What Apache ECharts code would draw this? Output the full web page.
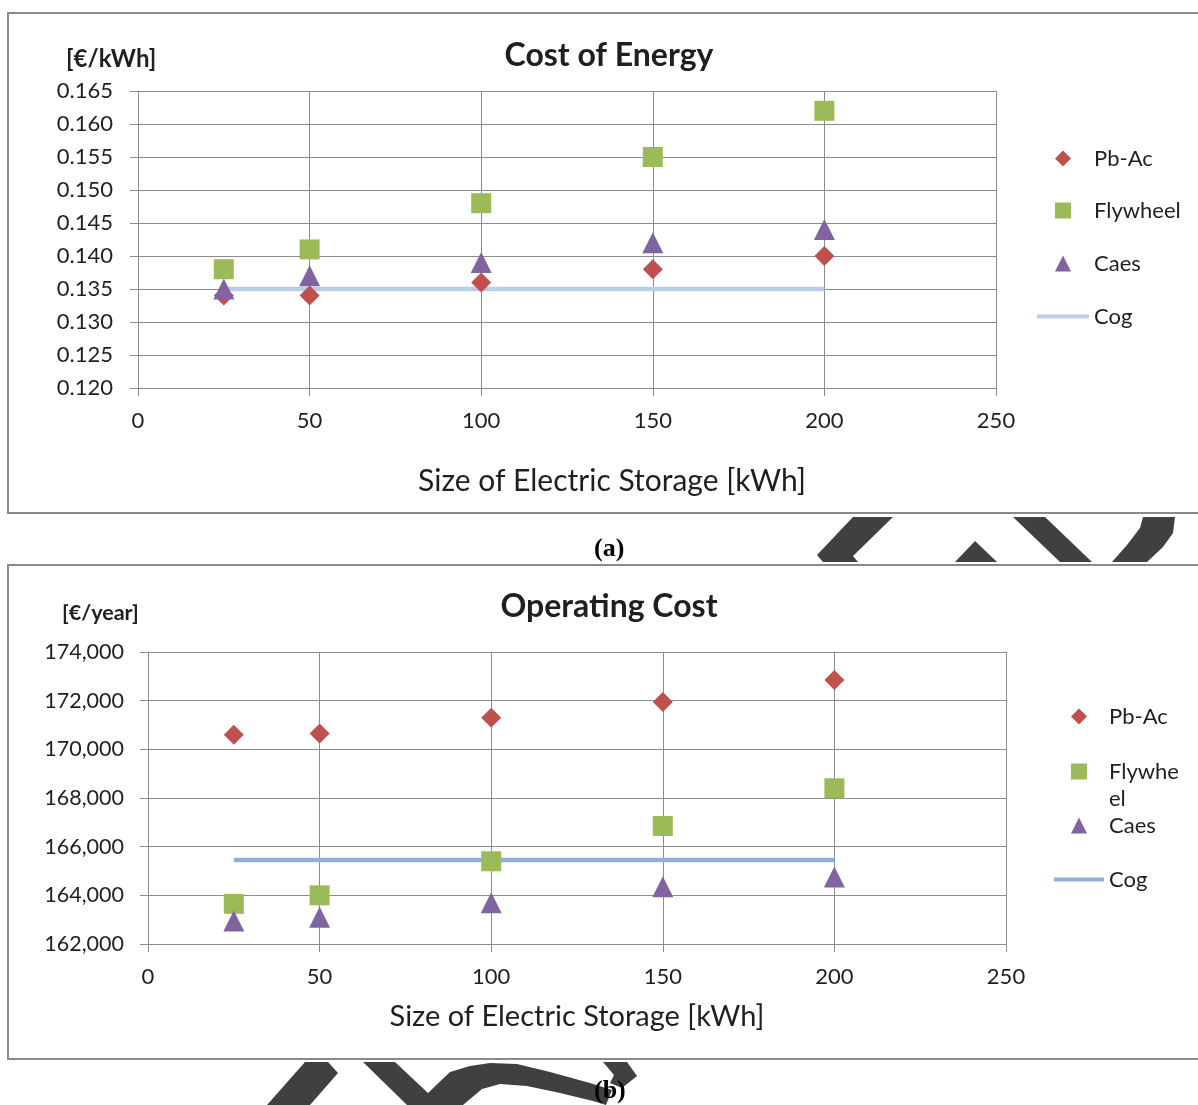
<!DOCTYPE html>
<html>
<head>
<meta charset="utf-8">
<script src="https://cdn.jsdelivr.net/npm/echarts@6/dist/echarts.min.js"></script>
<style>
html,body{margin:0;padding:0;background:#fff;}
#chart{width:1198px;height:1105px;}
</style>
</head>
<body>
<div id="chart"></div>
<script>
// ---- data ----
const sizes = [25, 50, 100, 150, 200];
const xTicks = [0, 50, 100, 150, 200, 250];

const coePbAc     = [0.134, 0.134, 0.136, 0.138, 0.140];
const coeFlywheel = [0.138, 0.141, 0.148, 0.155, 0.162];
const coeCaes     = [0.135, 0.137, 0.139, 0.142, 0.144];
const coeCog      = [0.135, 0.135, 0.135, 0.135, 0.135];

const opPbAc     = [170600, 170650, 171300, 171950, 172850];
const opFlywheel = [163650, 164000, 165400, 166850, 168400];
const opCaes     = [162950, 163100, 163700, 164350, 164750];
const opCog      = [165450, 165450, 165450, 165450, 165450];

const seriesNames = ['Pb-Ac', 'Flywheel', 'Caes', 'Cog'];

// ---- styles ----
const RED = '#c0504d', GREEN = '#9bbb59', PURPLE = '#8064a2';
const COG_A = '#b9cde5', COG_B = '#8fb1d9';
const GRID = '#8c8c8c', TXT = '#1f1f1f';
const FONT = 'Lato';

function pairs(xs, ys){ return xs.map((x,i)=>[x, ys[i]]); }
function fmtThousands(v){ return String(Math.round(v)).replace(/\B(?=(\d{3})+(?!\d))/g, ','); }

function xAxisCfg(gi, gap, nameSize, padLeft){
  return {
    gridIndex: gi, type:'value', min:0, max:250, interval:50,
    axisLine:{show:true, lineStyle:{color:GRID, width:1}},
    axisTick:{show:true, length:8, lineStyle:{color:GRID}},
    axisLabel:{fontSize:22, color:TXT, margin:22, fontFamily:FONT},
    splitLine:{show:true, lineStyle:{color:GRID, width:1}},
    name:'Size of Electric Storage [kWh]', nameLocation:'middle', nameGap:gap,
    nameTextStyle:{fontSize:nameSize, color:TXT, fontFamily:FONT, padding:[0,0,0,padLeft]}
  };
}

function scatter(name, gi, data, symbol, color, size){
  return {name, type:'scatter', xAxisIndex:gi, yAxisIndex:gi, data, symbol,
    symbolSize:size, itemStyle:{color, opacity:1}, z:3, emphasis:{disabled:true}};
}

// legend icons: a marker centred in a box of width w (16 tall)
function iconPath(kind, w){
  const c = w / 2;
  const frame = 'M0,0L0,0M' + w + ',16L' + w + ',16';
  if (kind === 'diamond') return 'path://' + frame + 'M' + c + ',0L' + (c+8) + ',8L' + c + ',16L' + (c-8) + ',8Z';
  if (kind === 'square') return 'path://' + frame + 'M' + (c-8) + ',0L' + (c+8) + ',0L' + (c+8) + ',16L' + (c-8) + ',16Z';
  if (kind === 'triangle') return 'path://' + frame + 'M' + c + ',0L' + (c+8) + ',16L' + (c-8) + ',16Z';
  return 'path://' + frame + 'M0,6L' + w + ',6L' + w + ',10L0,10Z';
}

function legendItem(name, kind, color, left, top, itemWidth, text){
  return {
    left, top, padding:0, itemWidth, itemHeight:16, selectedMode:false,
    symbolKeepAspect:true,
    data:[{name, icon:iconPath(kind, itemWidth), itemStyle:{color, borderWidth:0, opacity:1}}],
    formatter: text ? (()=>text) : undefined,
    textStyle:{fontSize:22, color:TXT, fontFamily:FONT, lineHeight:27}
  };
}

const chart = echarts.init(document.getElementById('chart'), null, {renderer:'canvas'});

const option = {
  animation:false,
  backgroundColor:'#ffffff',
  textStyle:{fontFamily:FONT},
  title:[
    {text:'Cost of Energy', left:609, top:40, textAlign:'center', padding:0,
     textStyle:{fontSize:32, fontWeight:'bold', color:TXT, fontFamily:FONT}},
    {text:'Operating Cost', left:609, top:591, textAlign:'center', padding:0,
     textStyle:{fontSize:32, fontWeight:'bold', color:TXT, fontFamily:FONT}}
  ],
  grid:[
    {left:138, right:202, top:91, bottom:717},
    {left:148, right:192, top:652, bottom:161}
  ],
  xAxis:[ xAxisCfg(0, 78, 30, 90), xAxisCfg(1, 58, 29, 0) ],
  yAxis:[
    {gridIndex:0, type:'value', min:0.12, max:0.165, interval:0.005,
     axisLine:{show:true, lineStyle:{color:GRID}},
     axisTick:{show:true, length:8, lineStyle:{color:GRID}},
     axisLabel:{fontSize:22, color:TXT, margin:25, fontFamily:FONT, formatter:v=>v.toFixed(3)},
     splitLine:{show:true, lineStyle:{color:GRID}}},
    {gridIndex:1, type:'value', min:162000, max:174000, interval:2000,
     axisLine:{show:true, lineStyle:{color:GRID}},
     axisTick:{show:true, length:8, lineStyle:{color:GRID}},
     axisLabel:{fontSize:21.5, color:TXT, margin:24, fontFamily:FONT, formatter:fmtThousands},
     splitLine:{show:true, lineStyle:{color:GRID}}}
  ],
  legend:[
    legendItem('Pb-Ac', 'diamond', RED, 1037, 145, 52),
    legendItem('Flywheel', 'square', GREEN, 1037, 197, 52),
    legendItem('Caes', 'triangle', PURPLE, 1037, 250, 52),
    legendItem('Cog', 'line', COG_A, 1037, 303, 52),
    legendItem('Pb-Ac', 'diamond', RED, 1054, 703, 50),
    legendItem('Flywheel', 'square', GREEN, 1054, 731, 50, ' \nFlywhe\nel'),
    legendItem('Caes', 'triangle', PURPLE, 1054, 812, 50),
    legendItem('Cog', 'line', COG_B, 1054, 866, 50)
  ],
  series:[
    {name:'Cog', type:'line', xAxisIndex:0, yAxisIndex:0, data:pairs(sizes, coeCog),
     symbol:'none', lineStyle:{color:COG_A, width:4.5}, itemStyle:{color:COG_A}, z:2},
    scatter('Pb-Ac', 0, pairs(sizes, coePbAc), 'diamond', RED, 20),
    scatter('Flywheel', 0, pairs(sizes, coeFlywheel), 'rect', GREEN, 20),
    scatter('Caes', 0, pairs(sizes, coeCaes), 'triangle', PURPLE, 21),

    {name:'Cog', type:'line', xAxisIndex:1, yAxisIndex:1, data:pairs(sizes, opCog),
     symbol:'none', lineStyle:{color:COG_B, width:4.5}, itemStyle:{color:COG_B}, z:2},
    scatter('Pb-Ac', 1, pairs(sizes, opPbAc), 'diamond', RED, 20),
    scatter('Flywheel', 1, pairs(sizes, opFlywheel), 'rect', GREEN, 20),
    scatter('Caes', 1, pairs(sizes, opCaes), 'triangle', PURPLE, 21)
  ],
  graphic:[
    // watermark strokes between panels
    {type:'polygon', z:0, silent:true, shape:{points:[[853,517],[893,517],[853,556],[858,562],[823,562],[817,555]]}, style:{fill:'#404040'}},
    {type:'polygon', z:0, silent:true, shape:{points:[[975,541],[955,562],[997,562]]}, style:{fill:'#404040'}},
    {type:'polygon', z:0, silent:true, shape:{points:[[1013,517],[1045,517],[1092,562],[1060,562]]}, style:{fill:'#404040'}},
    {type:'polygon', z:0, silent:true, shape:{points:[[1143,517],[1175,517],[1173,533],[1163,547],[1147,562],[1112,562],[1127,545],[1140,528]]}, style:{fill:'#404040'}},
    {type:'polygon', z:0, silent:true, shape:{points:[[305,1062],[328,1062],[338,1073],[310,1105],[267,1105]]}, style:{fill:'#404040'}},
    {type:'polygon', z:0, silent:true, shape:{points:[[363,1062],[395,1062],[428,1093],[450,1072],[470,1066],[490,1063],[517,1064],[550,1072],[590,1083],[612,1090],[606,1105],[593,1101],[560,1093],[527,1086],[500,1084],[482,1089],[463,1105],[407,1105]]}, style:{fill:'#404040'}},
    {type:'polygon', z:0, silent:true, shape:{points:[[603,1062],[627,1062],[637,1076],[622,1088],[610,1083],[614,1075]]}, style:{fill:'#404040'}},
    // panel frames
    {type:'rect', z:1, silent:true, shape:{x:8, y:13, width:1200, height:500}, style:{fill:'none', stroke:'#8a8a8a', lineWidth:2}},
    {type:'rect', z:1, silent:true, shape:{x:8, y:565, width:1200, height:494}, style:{fill:'none', stroke:'#8a8a8a', lineWidth:2}},
    // unit labels
    {type:'text', z:5, left:66, top:47, style:{text:'[€/kWh]', fontSize:24, fontWeight:'bold', fill:TXT, fontFamily:FONT}},
    {type:'text', z:5, left:62, top:602, style:{text:'[€/year]', fontSize:21.5, fontWeight:'bold', fill:TXT, fontFamily:FONT}},
    // panel captions
    {type:'text', z:5, left:594, top:536, style:{text:'(a)', fontSize:26, fontWeight:'bold', fill:'#000', fontFamily:'Liberation Serif'}},
    {type:'text', z:5, left:594, top:1078, style:{text:'(b)', fontSize:26, fontWeight:'bold', fill:'#000', fontFamily:'Liberation Serif'}}
  ]
};
chart.setOption(option);
</script>
</body>
</html>
